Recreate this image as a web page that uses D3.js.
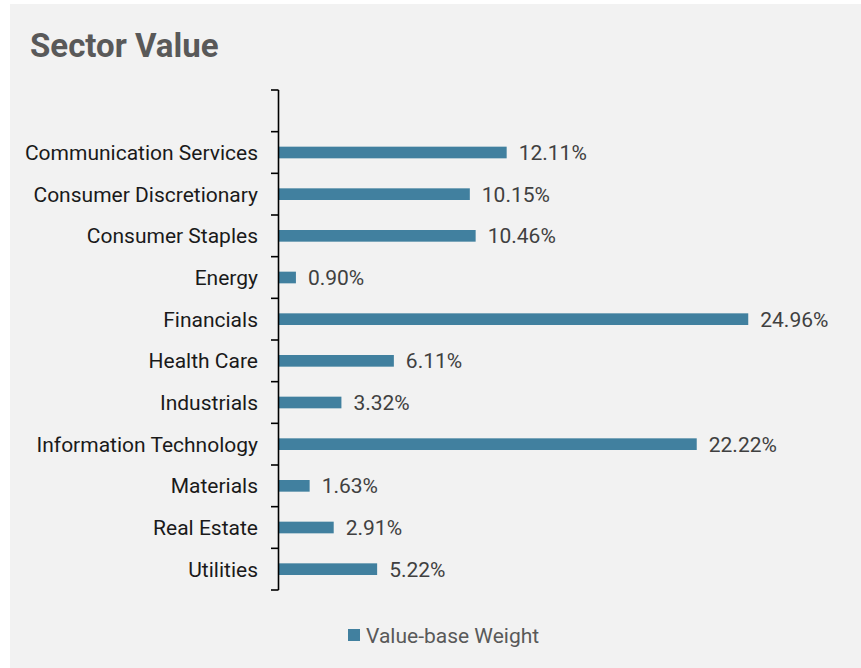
<!doctype html>
<html lang="en">
<head>
<meta charset="utf-8">
<title>Sector Value</title>
<script src="https://d3js.org/d3.v7.min.js"></script>
<style>
  html, body { margin: 0; padding: 0; background: #ffffff; }
  svg { display: block; font-family: Roboto, "Noto Sans", sans-serif; }
</style>
</head>
<body>
<svg width="861" height="668"></svg>
<script>
  // data
  var sectors = ["Communication Services", "Consumer Discretionary", "Consumer Staples", "Energy",
                 "Financials", "Health Care", "Industrials", "Information Technology",
                 "Materials", "Real Estate", "Utilities"];
  var weights = [12.11, 10.15, 10.46, 0.90, 24.96, 6.11, 3.32, 22.22, 1.63, 2.91, 5.22];
  var seriesName = "Value-base Weight";

  var data = sectors.map(function(s, i) { return {sector: s, value: weights[i]}; });

  var svg = d3.select("svg");

  svg.append("rect")
      .attr("x", 10).attr("y", 4)
      .attr("width", 851).attr("height", 664)
      .attr("fill", "#f2f2f2");

  svg.append("text")
      .attr("x", 30).attr("y", 57)
      .attr("fill", "#595959")
      .style("font-size", "33px")
      .style("font-weight", "bold")
      .text("Sector Value");

  // empty band on top, like the original
  var yScale = d3.scaleBand()
      .domain([""].concat(sectors))
      .range([90, 590])
      .paddingInner(0.72)
      .paddingOuter(0.36);

  var xScale = d3.scaleLinear()
      .domain([0, 30])
      .range([279, 843]);

  var barColor = "#41809f";

  svg.selectAll(".bar")
      .data(data)
      .enter().append("rect")
      .attr("class", "bar")
      .attr("x", xScale(0))
      .attr("y", function(d) { return yScale(d.sector); })
      .attr("width", function(d) { return xScale(d.value) - xScale(0); })
      .attr("height", yScale.bandwidth())
      .attr("fill", barColor);

  svg.selectAll(".val")
      .data(data)
      .enter().append("text")
      .attr("class", "val")
      .attr("x", function(d) { return xScale(d.value) + 12; })
      .attr("y", function(d) { return yScale(d.sector) + yScale.bandwidth() / 2; })
      .attr("dy", "0.36em")
      .attr("fill", "#404040")
      .style("font-size", "21px")
      .text(function(d) { return d.value.toFixed(2) + "%"; });

  // axis: ticks on band boundaries
  var step = yScale.step();
  var bounds = d3.range(yScale.domain().length + 1).map(function(i) { return 90 + i * step; });
  var axis = svg.append("g");
  axis.append("line")
      .attr("x1", 278.5).attr("x2", 278.5)
      .attr("y1", 90).attr("y2", 590)
      .attr("stroke", "#000").attr("stroke-width", 1.6);
  axis.selectAll(".tick")
      .data(bounds)
      .enter().append("line")
      .attr("x1", 271).attr("x2", 278.5)
      .attr("y1", function(d) { return d; })
      .attr("y2", function(d) { return d; })
      .attr("stroke", "#000").attr("stroke-width", 1.6);

  svg.selectAll(".cat")
      .data(sectors)
      .enter().append("text")
      .attr("class", "cat")
      .attr("x", 258)
      .attr("y", function(d) { return yScale(d) + yScale.bandwidth() / 2; })
      .attr("dy", "0.36em")
      .attr("text-anchor", "end")
      .attr("fill", "#1a1a1a")
      .style("font-size", "21px")
      .text(function(d) { return d; });

  // legend
  var legend = svg.append("g").attr("transform", "translate(348,629)");
  legend.append("rect").attr("width", 12).attr("height", 12).attr("fill", barColor);
  legend.append("text")
      .attr("x", 18).attr("y", 6).attr("dy", "0.36em")
      .attr("fill", "#595959")
      .style("font-size", "21px")
      .text(seriesName);
</script>
</body>
</html>
